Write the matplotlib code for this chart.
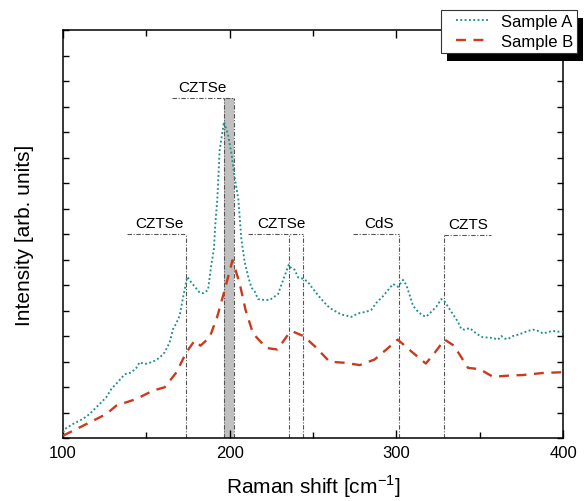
import matplotlib
matplotlib.use("Agg")
import matplotlib.pyplot as plt
from matplotlib.patches import Rectangle
from matplotlib.legend_handler import HandlerLine2D
import numpy as np

plt.rcParams['font.family'] = ['Liberation Sans', 'DejaVu Sans']

# ---- data ----
xa = [100, 101, 106, 112, 116, 119, 123, 126, 129, 133,
      137, 141, 144, 146, 149, 152, 155, 158, 161, 164,
      166, 168, 170, 172, 174.5, 177, 179, 182, 184, 187,
      189, 190.5, 191.5, 192.6, 194, 196.6, 199, 201.2, 203, 205.2,
      207, 209, 211, 213, 215, 217, 220, 224, 227, 229,
      231, 233, 235.5, 237, 239, 241, 243, 246.7, 250, 253.5,
      257, 260, 264, 267, 270, 273, 276, 278, 282, 285,
      288, 292, 295, 298, 301, 304, 306, 308, 310, 313,
      316, 318, 321, 324, 327, 329, 332, 335, 337, 339,
      341, 344, 347, 350, 352, 355, 358, 361, 363, 365,
      367, 370, 373, 376, 379, 382, 385, 388, 391, 394,
      397, 400]
ya = [0.22, 0.35, 0.55, 0.75, 0.94, 1.14, 1.4, 1.6, 1.92, 2.2,
      2.5, 2.57, 2.75, 2.97, 2.9, 2.95, 3.03, 3.15, 3.36, 3.75,
      4.27, 4.5, 4.8, 5.5, 6.32, 6.1, 5.94, 5.7, 5.68, 5.8,
      6.8, 7.4, 8.5, 9.37, 11.3, 12.4, 11.9, 11.1, 10.2, 9.37,
      7.8, 6.9, 6.36, 5.9, 5.75, 5.45, 5.42, 5.41, 5.55, 5.64,
      6.0, 6.36, 6.8, 6.65, 6.6, 6.3, 6.27, 6.14, 5.85, 5.56,
      5.3, 5.1, 4.95, 4.84, 4.8, 4.75, 4.85, 4.9, 4.95, 5.03,
      5.3, 5.56, 5.8, 6.04, 5.93, 6.2, 6.0, 5.6, 5.19, 4.95,
      4.8, 4.76, 4.95, 5.15, 5.45, 5.35, 5.05, 4.75, 4.55, 4.27,
      4.25, 4.31, 4.15, 4.01, 3.95, 3.94, 3.92, 3.86, 4.0, 3.9,
      3.88, 4.0, 4.05, 4.12, 4.2, 4.25, 4.2, 4.1, 4.15, 4.2,
      4.17, 4.17]

xb = [100, 112, 126, 132, 144, 154, 161, 168, 174, 179,
      182.5, 188, 192.6, 197, 201.7, 206, 209.5, 214, 222, 228.7,
      235.5, 237.7, 244.5, 251, 260, 269, 278, 287, 294, 300.8,
      310, 317.7, 323, 329, 334.6, 343, 350, 358, 368, 376,
      388, 400]
yb = [0.09, 0.48, 0.94, 1.27, 1.53, 1.86, 1.99, 2.57, 3.36, 3.82,
      3.62, 3.95, 4.77, 5.8, 6.97, 6.06, 5.03, 4.1, 3.53, 3.47,
      4.1, 4.18, 3.99, 3.6, 2.99, 2.95, 2.86, 3.08, 3.47, 3.86,
      3.34, 2.92, 3.34, 3.86, 3.62, 2.75, 2.7, 2.4, 2.45, 2.47,
      2.55, 2.58]

series_names = ['Sample A', 'Sample B']

# peak assignments
peak_labels = ['CZTSe', 'CZTSe', 'CdS', 'CZTS']
peak_lines = [[174.0], [235.5, 244.0], [301.5], [328.6]]
peak_bracket_x0 = [138.5, 211.0, 273.8, 328.6]
peak_bracket_x1 = [174.0, 244.0, 301.5, 356.5]
peak_top = [8.0, 8.0, 8.0, 7.95]
peak_text_x = [157.7, 231.0, 289.6, 343.2]

band_label = 'CZTSe'
band_x = [196.3, 202.3]
band_top = 13.33
band_bracket_x0 = 165.6
band_text_x = 183.6

# ---- figure ----
fig = plt.figure(figsize=(5.87, 5.02), dpi=100)
ax = fig.add_axes([63/587, 1-439/502, 500/587, 408/502])

ax.set_xlim(100, 400)
ax.set_ylim(0, 16)

guide_kw = dict(color='#555555', linewidth=0.8, linestyle=(0, (4, 1.5, 1, 1.5)))

ax.fill_between(band_x, 0, band_top, color='#c0c0c0', zorder=1, linewidth=0)
for bx in band_x:
    ax.plot([bx, bx], [0, band_top], zorder=2, **guide_kw)
ax.plot([band_bracket_x0, band_x[1]], [band_top, band_top], zorder=2, **guide_kw)
ax.text(band_text_x, band_top + 0.15, band_label, ha='center', va='bottom', fontsize=11)

for lab, lines, x0, x1, top, tx in zip(peak_labels, peak_lines, peak_bracket_x0,
                                       peak_bracket_x1, peak_top, peak_text_x):
    for lx in lines:
        ax.plot([lx, lx], [0, top], zorder=2, **guide_kw)
    ax.plot([x0, x1], [top, top], zorder=2, **guide_kw)
    ax.text(tx, top + 0.15, lab, ha='center', va='bottom', fontsize=11)

la, = ax.plot(xa, ya, color='#1f8f8f', linewidth=1.35, linestyle=(0, (1, 1.3)),
              label=series_names[0], zorder=3)
lb, = ax.plot(xb, yb, color='#cc3a1e', linewidth=1.7, linestyle=(0, (4.2, 3.2)),
              label=series_names[1], zorder=3)

ax.set_xticks([100, 200, 300, 400])
ax.set_xticks([150, 250, 350], minor=True)
ax.set_yticks(np.arange(0, 17, 1))
ax.set_yticklabels([])
ax.tick_params(axis='both', which='major', direction='in', top=True, right=True,
               length=5.5, width=1.0, labelsize=12, pad=5)
ax.tick_params(axis='x', which='minor', direction='in', top=True, length=4, width=1.0)
ax.tick_params(axis='y', which='major', length=4.3)
for s in ax.spines.values():
    s.set_linewidth(1.1)

ax.set_xlabel('Raman shift [cm$^{\\mathregular{-1}}$]', fontsize=15, labelpad=9)
ax.set_ylabel('Intensity [arb. units]', fontsize=15, labelpad=16)


class ShortLine(HandlerLine2D):
    def get_xdata(self, legend, xdescent, ydescent, width, height, fontsize):
        x0 = -xdescent + 0.25 * width
        x1 = -xdescent + width
        xd = np.array([x0, x1])
        return xd, xd


leg = fig.legend(handles=[la, lb], loc='upper right', bbox_to_anchor=(577/587, 1-11/502),
                 borderaxespad=0, fancybox=False, framealpha=1, edgecolor='#333333',
                 fontsize=12, handlelength=2.6, borderpad=0.25, labelspacing=0.3,
                 handletextpad=0.75,
                 handler_map={la: ShortLine(), lb: ShortLine()})
leg.get_frame().set_linewidth(0.8)
leg.set_zorder(6)

fig.canvas.draw()
bb = leg.get_window_extent(fig.canvas.get_renderer())
inv = fig.transFigure.inverted()
(fx0, fy0) = inv.transform((bb.x0 + 6, bb.y0 - 8))
(fx1, fy1) = inv.transform((bb.x1 + 6, bb.y1 - 8))
shadow = Rectangle((fx0, fy0), fx1 - fx0, fy1 - fy0, transform=fig.transFigure,
                   facecolor='black', edgecolor='none', zorder=5)
fig.patches.append(shadow)

fig.savefig('out.png', dpi=100)
